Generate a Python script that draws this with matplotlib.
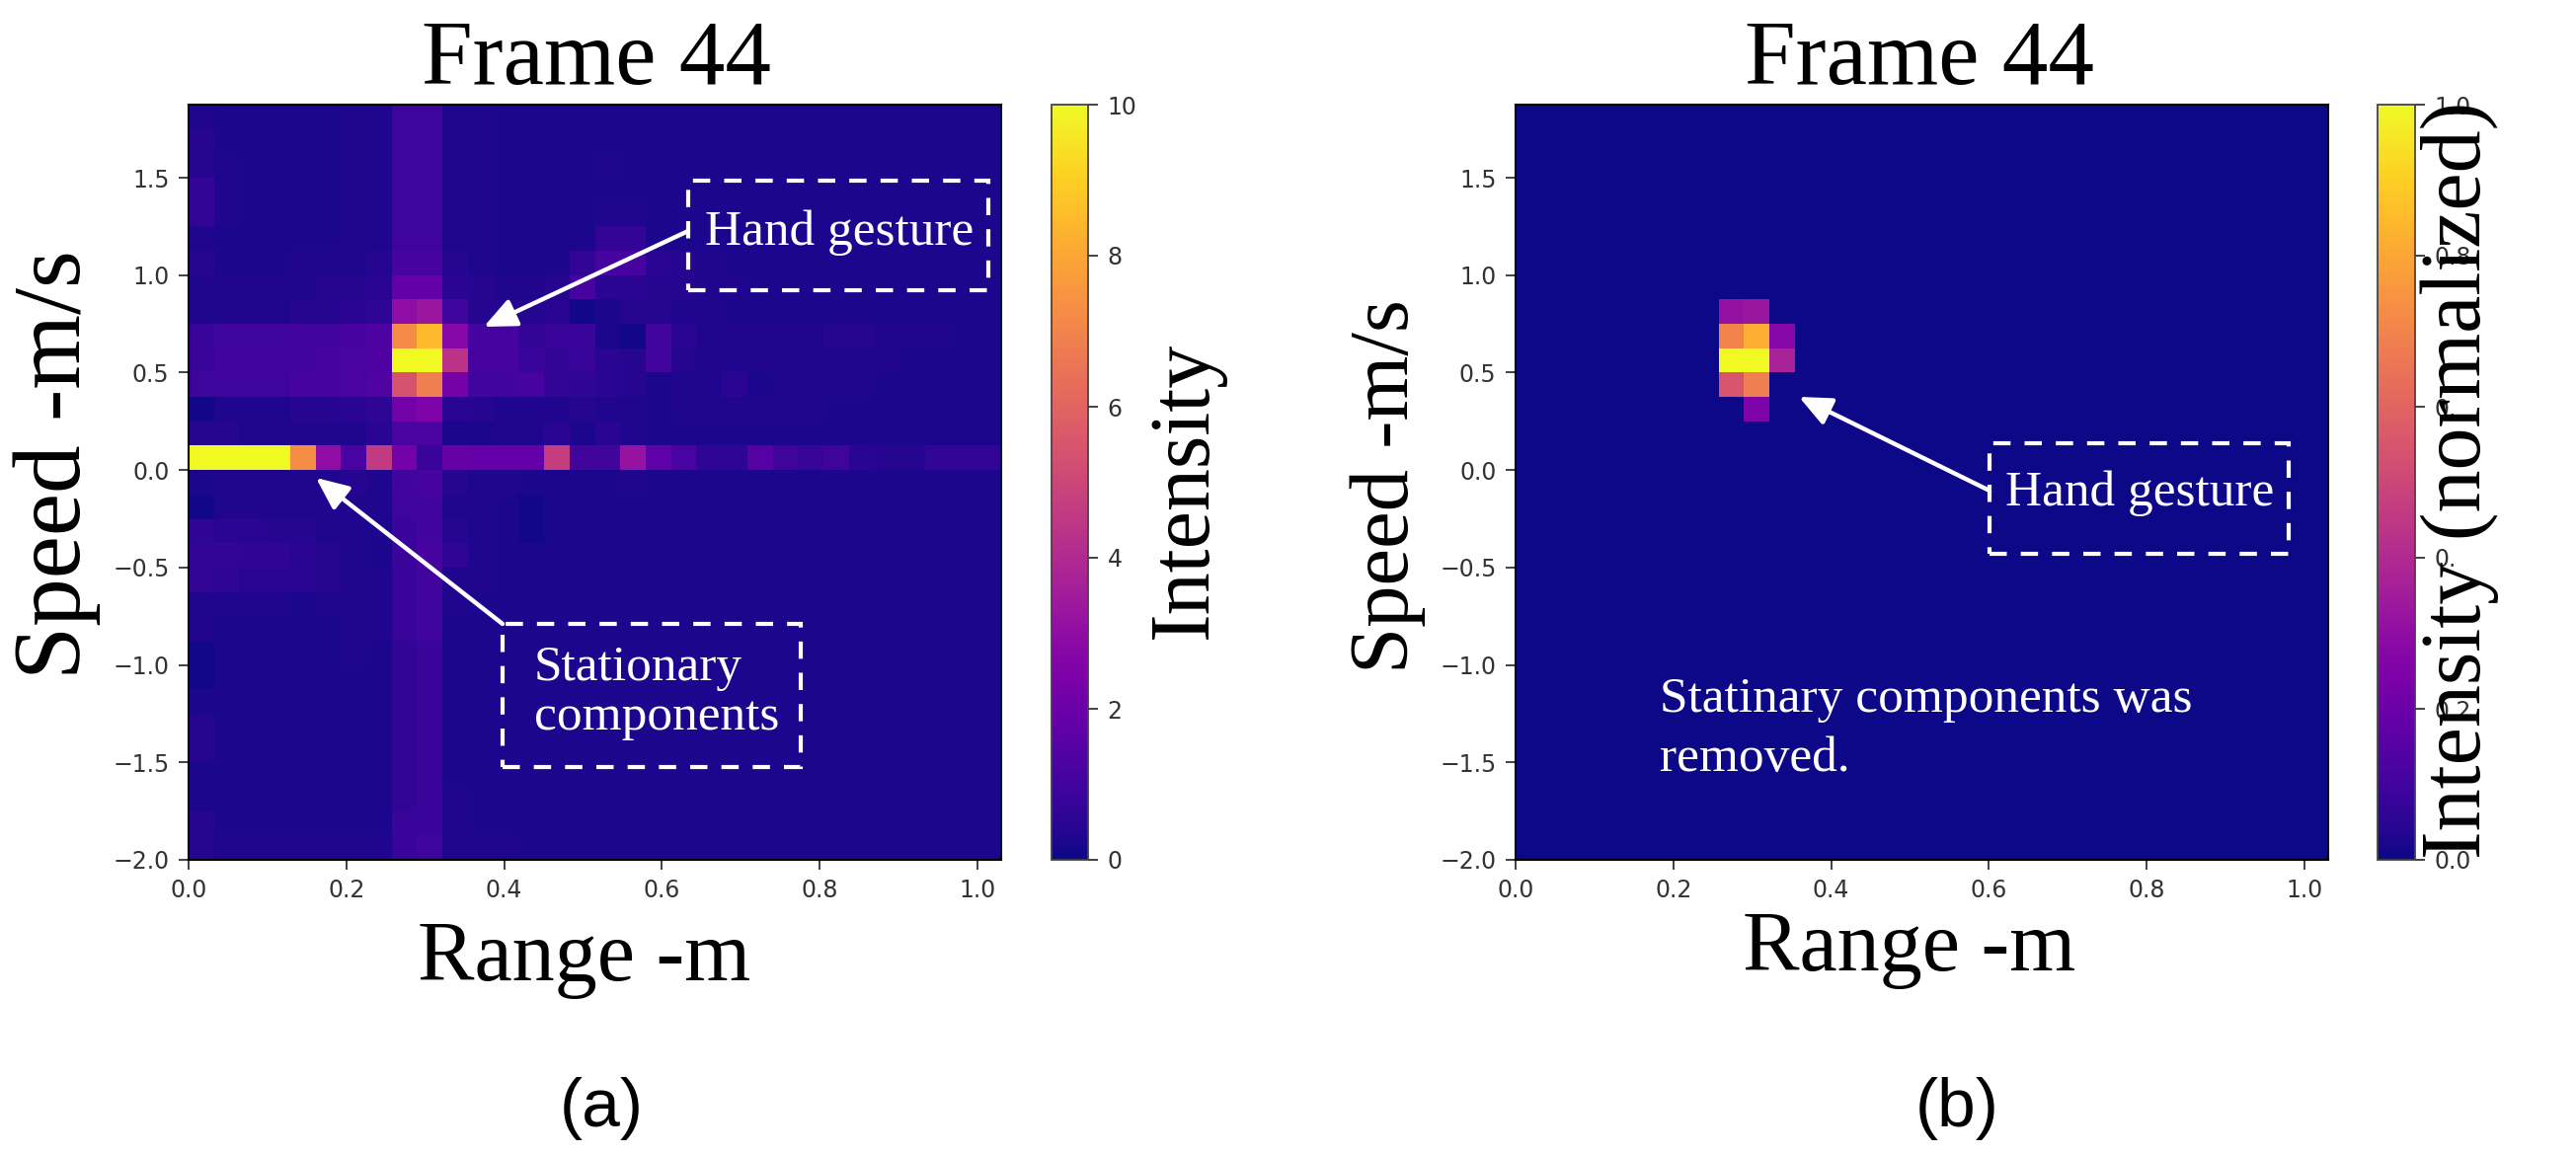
import numpy as np
import matplotlib
matplotlib.use("Agg")
import matplotlib.pyplot as plt
from matplotlib.transforms import Affine2D
from matplotlib.patches import Rectangle

W, H = 2609, 1169
SERIF = ["Liberation Serif", "DejaVu Serif"]
SANS = ["Liberation Sans", "DejaVu Sans"]

# Panel (a) intensity, rows from top (speed 1.875) to bottom (speed -2.0), 32 range bins
row_30 = [.3,.2,.2,.2,.2,.2,.3,.3,.9,.9,.3,.3,.2,.2,.2,.2,.2,.2,.2,.2,.2,.2,.2,.2,.2,.2,.2,.2,.2,.2,.2,.2]
row_29 = [.4,.2,.2,.2,.2,.2,.3,.3,.9,.9,.3,.3,.2,.2,.2,.2,.2,.2,.2,.2,.2,.2,.2,.2,.2,.2,.2,.2,.2,.2,.2,.2]
row_28 = [.4,.3,.2,.2,.2,.2,.3,.3,.9,.9,.3,.3,.2,.2,.2,.2,.3,.2,.2,.2,.2,.2,.2,.2,.2,.2,.2,.2,.2,.2,.2,.2]
row_27 = [.7,.3,.2,.2,.2,.2,.3,.3,.9,.9,.3,.3,.2,.2,.2,.2,.2,.2,.2,.2,.2,.2,.2,.2,.2,.2,.2,.2,.2,.2,.2,.2]
row_26 = [.7,.3,.2,.2,.2,.2,.3,.3,.9,.9,.3,.3,.2,.2,.2,.2,.3,.3,.2,.2,.2,.2,.2,.2,.2,.2,.2,.2,.2,.2,.2,.2]
row_25 = [.3,.2,.2,.2,.2,.2,.3,.3,.9,.9,.3,.3,.2,.2,.2,.2,.7,.7,.2,.2,.2,.2,.2,.2,.2,.2,.2,.2,.2,.2,.2,.2]
row_24 = [.4,.2,.2,.2,.3,.3,.3,.4,1.1,1.1,.4,.3,.2,.2,.2,.7,1.1,1.1,.5,.4,.3,.2,.2,.2,.2,.2,.2,.2,.2,.2,.2,.2]
row_23 = [.3,.3,.3,.3,.3,.4,.4,.5,1.8,1.8,.5,.4,.3,.3,.4,1.1,.5,.5,.4,.4,.3,.3,.2,.2,.2,.2,.2,.2,.2,.2,.2,.2]
row_22 = [.3,.3,.3,.3,.4,.4,.5,.6,3.0,3.3,.9,.4,.4,.4,.5,.1,.2,.4,.4,.3,.3,.2,.2,.2,.2,.2,.2,.2,.2,.2,.2,.2]
row_21 = [.8,.9,.9,.9,1.0,1.0,1.1,1.3,7.2,8.5,2.7,1.1,1.1,.7,.8,.8,.2,.1,1.0,.5,.3,.3,.3,.3,.3,.4,.4,.3,.3,.3,.2,.2]
row_20 = [.8,1.0,1.0,1.0,1.0,1.1,1.2,1.3,10,10,4.3,1.1,1.1,.8,.7,.8,.5,.4,1.0,.4,.3,.3,.3,.3,.3,.3,.3,.3,.2,.2,.2,.2]
row_19 = [.9,.9,.9,.9,1.1,1.1,1.2,1.4,5.4,6.8,2.3,1.0,1.0,1.1,.7,.6,.5,.4,.2,.3,.3,.5,.2,.3,.3,.3,.3,.2,.2,.2,.2,.2]
row_18 = [.1,.3,.3,.3,.4,.4,.5,.6,2.2,2.5,.5,.4,.3,.3,.3,.4,.3,.3,.2,.3,.3,.3,.3,.3,.3,.2,.2,.2,.2,.2,.2,.2]
row_17 = [.4,.4,.3,.3,.3,.3,.3,.5,1.2,1.2,.2,.2,.3,.3,.5,.2,.5,.3,.2,.2,.2,.2,.2,.2,.2,.2,.2,.2,.2,.2,.2,.2]
row_16 = [10,10,10,10,7.3,3.0,1.2,4.6,2.2,.8,1.9,1.8,1.8,1.8,4.7,1.0,1.0,3.2,1.7,1.2,.6,.6,1.5,.9,.8,.9,.5,.4,.4,.7,.7,.7]
row_15 = [.2,.3,.3,.3,.3,.3,.4,.3,1.0,1.1,.4,.3,.3,.2,.2,.2,.2,.3,.2,.2,.2,.2,.2,.2,.2,.2,.2,.2,.2,.2,.2,.2]
row_14 = [.1,.3,.3,.3,.3,.3,.3,.3,.9,1.0,.3,.3,.2,.1,.2,.2,.2,.2,.2,.2,.2,.2,.2,.2,.2,.2,.2,.2,.2,.2,.2,.2]
row_13 = [.6,.5,.5,.4,.4,.3,.3,.2,.8,1.0,.4,.3,.2,.1,.2,.2,.2,.2,.2,.2,.2,.2,.2,.2,.2,.2,.2,.2,.2,.2,.2,.2]
row_12 = [.7,.7,.6,.6,.5,.4,.3,.2,.8,1.1,.6,.3,.2,.2,.2,.2,.2,.2,.2,.2,.2,.2,.2,.2,.2,.2,.2,.2,.2,.2,.2,.2]
row_11 = [.7,.6,.5,.5,.5,.4,.3,.3,.8,1.0,.3,.3,.2,.2,.2,.2,.2,.2,.2,.2,.2,.2,.2,.2,.2,.2,.2,.2,.2,.2,.2,.2]
row_10 = [.3,.3,.3,.3,.2,.3,.3,.3,.8,.9,.3,.2,.2,.2,.2,.2,.2,.2,.2,.2,.2,.2,.2,.2,.2,.2,.2,.2,.2,.2,.2,.2]
row_09 = [.3,.2,.2,.2,.2,.2,.3,.3,.8,.9,.2,.2,.2,.2,.2,.2,.2,.2,.2,.2,.2,.2,.2,.2,.2,.2,.2,.2,.2,.2,.2,.2]
row_08 = [.1,.2,.2,.2,.2,.2,.3,.2,.7,.8,.2,.2,.2,.2,.2,.2,.2,.2,.2,.2,.2,.2,.2,.2,.2,.2,.2,.2,.2,.2,.2,.2]
row_07 = [.1,.2,.2,.2,.2,.2,.2,.2,.7,.8,.2,.2,.2,.2,.2,.2,.2,.2,.2,.2,.2,.2,.2,.2,.2,.2,.2,.2,.2,.2,.2,.2]
row_06 = [.2,.2,.2,.2,.2,.2,.2,.2,.7,.8,.2,.2,.2,.2,.2,.2,.2,.2,.2,.2,.2,.2,.2,.2,.2,.2,.2,.2,.2,.2,.2,.2]
row_05 = [.4,.2,.2,.2,.2,.2,.2,.2,.7,.8,.2,.2,.2,.2,.2,.2,.2,.2,.2,.2,.2,.2,.2,.2,.2,.2,.2,.2,.2,.2,.2,.2]
row_04 = [.4,.2,.2,.2,.2,.2,.2,.2,.7,.8,.2,.2,.2,.2,.2,.2,.2,.2,.2,.2,.2,.2,.2,.2,.2,.2,.2,.2,.2,.2,.2,.2]
row_03 = [.2,.2,.2,.2,.2,.2,.2,.2,.7,.8,.2,.2,.2,.2,.2,.2,.2,.2,.2,.2,.2,.2,.2,.2,.2,.2,.2,.2,.2,.2,.2,.2]
row_02 = [.2,.2,.2,.2,.2,.2,.2,.2,.7,.8,.3,.2,.2,.2,.2,.2,.2,.2,.2,.2,.2,.2,.2,.2,.2,.2,.2,.2,.2,.2,.2,.2]
row_01 = [.4,.2,.2,.2,.2,.2,.2,.2,.8,.8,.3,.2,.2,.2,.2,.2,.2,.2,.2,.2,.2,.2,.2,.2,.2,.2,.2,.2,.2,.2,.2,.2]
row_00 = [.4,.3,.3,.3,.3,.3,.3,.3,.8,.9,.3,.3,.3,.2,.2,.2,.2,.2,.2,.2,.2,.2,.2,.2,.2,.2,.2,.2,.2,.2,.2,.2]
rows_a = [row_00,row_01,row_02,row_03,row_04,row_05,row_06,row_07,row_08,row_09,row_10,
          row_11,row_12,row_13,row_14,row_15,row_16,row_17,row_18,row_19,row_20,
          row_21,row_22,row_23,row_24,row_25,row_26,row_27,row_28,row_29,row_30]

# Panel (b): the only non-zero cells left after removal
peak_rows = [22, 22, 21, 21, 21, 20, 20, 20, 19, 19, 18]
peak_cols = [8, 9, 8, 9, 10, 8, 9, 10, 8, 9, 9]
peak_vals = [.31, .33, .70, .82, .27, 1.0, 1.0, .37, .55, .68, .25]

range_edges = np.linspace(0, 1.03, 33)
speed_edges = np.linspace(-2.0, 1.875, 32)
x_ticks = [0.0, 0.2, 0.4, 0.6, 0.8, 1.0]
y_ticks = [-2.0, -1.5, -1.0, -0.5, 0.0, 0.5, 1.0, 1.5]

plt.rcParams["font.family"] = "DejaVu Sans"
fig = plt.figure(figsize=(W / 100, H / 100), dpi=100, facecolor="white")
px = Affine2D().scale(1, -1).translate(0, H)


def axes_px(l, t, r, b):
    return fig.add_axes([l / W, 1 - b / H, (r - l) / W, (b - t) / H])


def heat(ax, cax, z, vmax, cticks, clabels):
    mesh = ax.pcolormesh(range_edges, speed_edges, z, cmap="plasma", vmin=0, vmax=vmax)
    ax.set_xlim(0, 1.03)
    ax.set_ylim(-2.0, 1.875)
    ax.set_xticks(x_ticks)
    ax.set_yticks(y_ticks)
    ax.tick_params(labelsize=17, length=7, width=1.3, labelcolor="#333333", color="#333333", pad=7)
    for s in ax.spines.values():
        s.set_linewidth(1.5)
    cb = fig.colorbar(mesh, cax=cax)
    cb.set_ticks(cticks)
    cb.set_ticklabels(clabels)
    cax.tick_params(labelsize=17, length=7, width=1.3, labelcolor="#333333", color="#333333", pad=7)
    cb.outline.set_linewidth(1.3)
    cb.outline.set_edgecolor("#444444")


def text(x, y, s, size, family=SERIF, color="black", rotation=0, ha="center", va="center", **kw):
    fig.text(x / W, 1 - y / H, s, fontsize=size, family=family, color=color,
             rotation=rotation, ha=ha, va=va, **kw)


def dashed_box(l, t, r, b):
    fig.add_artist(Rectangle((l, b), r - l, t - b, transform=px, fill=False, edgecolor="white",
                             linewidth=3, linestyle=(0, (4.2, 3.4)), zorder=5))


def arrow(x0, y0, x1, y1):
    ax_top.annotate("", xy=(x1, y1), xytext=(x0, y0), xycoords=px, textcoords=px,
                    arrowprops=dict(arrowstyle="-|>,head_length=0.9,head_width=0.4", color="white",
                                    lw=3.2, shrinkA=0, shrinkB=0, mutation_scale=22))


ax_a = axes_px(191, 106, 1014, 871)
cax_a = axes_px(1065, 106, 1102, 871)
heat(ax_a, cax_a, np.array(rows_a), 10, [0, 2, 4, 6, 8, 10], ["0", "2", "4", "6", "8", "10"])

z_b = np.zeros((31, 32))
for r, c, v in zip(peak_rows, peak_cols, peak_vals):
    z_b[r, c] = v
ax_b = axes_px(1535, 106, 2358, 871)
cax_b = axes_px(2408, 106, 2446, 871)
heat(ax_b, cax_b, z_b, 1.0, [0, .2, .4, .6, .8, 1.0], ["0.0", "0.2", "0.", "0.", "0.8", "1.0"])

ax_top = fig.add_axes([0, 0, 1, 1], facecolor="none")
ax_top.axis("off")

# Titles and axis labels
text(604, 63, "Frame 44", 67)
text(1944, 62, "Frame 44", 67)
text(592, 972, "Range -m", 62)
text(1934, 962, "Range -m", 62)
text(58, 471, "Speed -m/s", 70, rotation=90)
text(1406, 493, "Speed -m/s", 61, rotation=90)
text(1201, 496, "Intensity", 62, rotation=90)
text(2491, 486, "Intensity (normalized)", 62, rotation=90)
text(609, 1123, "(a)", 50, family=SANS)
text(1982, 1123, "(b)", 50, family=SANS)

# Annotations
dashed_box(697, 183, 1001, 294)
text(850, 236, "Hand gesture", 37, color="white")
arrow(697, 234, 490, 331)
dashed_box(509, 632, 811, 777)
text(541, 677, "Stationary", 37, color="white", ha="left")
text(541, 727, "components", 37, color="white", ha="left")
arrow(509, 632, 320, 484)
dashed_box(2015, 449, 2318, 561)
text(2167, 500, "Hand gesture", 37, color="white")
arrow(2015, 497, 1822, 402)
text(1681, 709, "Statinary components was", 37, color="white", ha="left")
text(1681, 769, "removed.", 37, color="white", ha="left")

fig.savefig("out.png", dpi=100, facecolor="white")
